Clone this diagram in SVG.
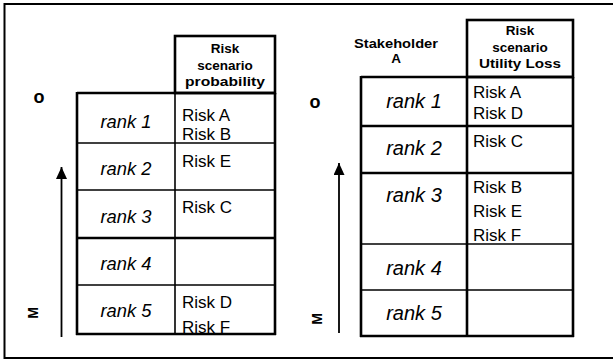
<svg xmlns="http://www.w3.org/2000/svg" width="613" height="361" viewBox="0 0 613 361">
<style>
.hd{font-family:"Liberation Sans",Arial,sans-serif;font-weight:bold;font-size:13.5px;text-anchor:middle;fill:#000}
.rk{font-family:"Liberation Sans",Arial,sans-serif;font-style:italic;font-size:19px;text-anchor:middle;fill:#000}
.rk2{font-family:"Liberation Sans",Arial,sans-serif;font-style:italic;font-size:20px;text-anchor:middle;fill:#000}
.rs{font-family:"Liberation Sans",Arial,sans-serif;font-size:17px;fill:#000}
.ax{font-family:"Liberation Sans",Arial,sans-serif;font-weight:bold;fill:#000;text-anchor:middle}
.thin{stroke:#000;stroke-width:1.6;fill:none}
.thk{stroke:#000;stroke-width:2.6;fill:none}
.conn{stroke:#000;stroke-width:1.8;fill:none}
</style>
<defs>
<marker id="ah" viewBox="0 0 12 11" refX="12" refY="5.5" markerWidth="12" markerHeight="11" markerUnits="userSpaceOnUse" orient="auto">
<path d="M0,0 L12,5.5 L0,11 Z" fill="#000"/>
</marker>
<clipPath id="clipL"><rect x="0" y="0" width="613" height="333"/></clipPath>
</defs>
<rect x="0" y="0" width="613" height="361" fill="#fff"/>
<rect id="frame" x="4.5" y="4" width="620" height="354" fill="none" stroke="#000" stroke-width="2"/>

<g id="left-table">
  <g id="left-header">
    <rect x="175" y="36" width="100" height="57" class="thk"/>
    <text class="hd" x="225" y="53">Risk</text>
    <text class="hd" x="225" y="70">scenario</text>
    <text class="hd" x="225" y="86" textLength="80" lengthAdjust="spacingAndGlyphs">probability</text>
  </g>
  <g id="left-texts" clip-path="url(#clipL)">
    <text class="rk" x="126" y="128" textLength="51" lengthAdjust="spacingAndGlyphs">rank 1</text>
    <text class="rk" x="126" y="175" textLength="51" lengthAdjust="spacingAndGlyphs">rank 2</text>
    <text class="rk" x="126" y="223" textLength="51" lengthAdjust="spacingAndGlyphs">rank 3</text>
    <text class="rk" x="126" y="270" textLength="51" lengthAdjust="spacingAndGlyphs">rank 4</text>
    <text class="rk" x="126" y="317" textLength="51" lengthAdjust="spacingAndGlyphs">rank 5</text>
    <text class="rs" x="182" y="121">Risk A</text>
    <text class="rs" x="182" y="140">Risk B</text>
    <text class="rs" x="182" y="167">Risk E</text>
    <text class="rs" x="182" y="213">Risk C</text>
    <text class="rs" x="182" y="308">Risk D</text>
    <text class="rs" x="182" y="333">Risk F</text>
  </g>
  <g id="left-grid">
    <line x1="77" y1="93" x2="276" y2="93" class="thk" stroke-width="3"/>
    <line x1="77" y1="143" x2="275" y2="143" class="thin"/>
    <line x1="77" y1="190" x2="275" y2="190" class="thin"/>
    <line x1="77" y1="238" x2="275" y2="238" class="thk"/>
    <line x1="77" y1="285" x2="275" y2="285" class="thin"/>
    <line x1="76" y1="334" x2="276" y2="334" class="thk" stroke-width="2.2"/>
    <line x1="77" y1="92" x2="77" y2="335" class="thk" stroke-width="2.4"/>
    <line x1="175" y1="93" x2="175" y2="334" class="thin" stroke-width="1.8"/>
    <line x1="275" y1="93" x2="275" y2="335" class="thk" stroke-width="3"/>
  </g>
</g>

<g id="right-table">
  <g id="stakeholder-label">
    <text class="hd" x="396" y="48" textLength="84" lengthAdjust="spacingAndGlyphs">Stakeholder</text>
    <text class="hd" x="396" y="63">A</text>
  </g>
  <g id="right-header">
    <rect x="467" y="20" width="106" height="57" class="thk" stroke-width="2.2"/>
    <text class="hd" x="520" y="35">Risk</text>
    <text class="hd" x="520" y="52">scenario</text>
    <text class="hd" x="520" y="68" textLength="82" lengthAdjust="spacingAndGlyphs">Utility Loss</text>
  </g>
  <g id="right-texts">
    <text class="rk2" x="414" y="108">rank 1</text>
    <text class="rk2" x="414" y="155">rank 2</text>
    <text class="rk2" x="414" y="202">rank 3</text>
    <text class="rk2" x="414" y="275">rank 4</text>
    <text class="rk2" x="414" y="320">rank 5</text>
    <text class="rs" x="473" y="98">Risk A</text>
    <text class="rs" x="473" y="119">Risk D</text>
    <text class="rs" x="473" y="147">Risk C</text>
    <text class="rs" x="473" y="193">Risk B</text>
    <text class="rs" x="473" y="217">Risk E</text>
    <text class="rs" x="473" y="241">Risk F</text>
  </g>
  <g id="right-grid">
    <line x1="361" y1="77" x2="573" y2="77" class="thk" stroke-width="2.2"/>
    <line x1="361" y1="126" x2="573" y2="126" class="thk" stroke-width="3"/>
    <line x1="361" y1="173" x2="573" y2="173" class="thk" stroke-width="3"/>
    <line x1="361" y1="244" x2="573" y2="244" class="thin" stroke-width="2"/>
    <line x1="361" y1="290" x2="573" y2="290" class="thin" stroke-width="2"/>
    <line x1="360" y1="336" x2="574" y2="336" class="thk" stroke-width="2.2"/>
    <line x1="361" y1="76" x2="361" y2="337" class="thk" stroke-width="2.4"/>
    <line x1="467" y1="77" x2="467" y2="336" class="thk" stroke-width="2.4"/>
    <line x1="573" y1="77" x2="573" y2="337" class="thk" stroke-width="2.4"/>
  </g>
</g>

<g id="axis-labels">
  <text class="ax" font-size="18" x="39" y="103">o</text>
  <text class="ax" font-size="14" transform="translate(37.5,313) rotate(-90)">M</text>
  <text class="ax" font-size="18" x="315" y="108">o</text>
  <text class="ax" font-size="14" transform="translate(321.5,319) rotate(-90)">M</text>
</g>

<g id="connectors">
  <line x1="61.5" y1="337" x2="61.5" y2="167" class="conn" marker-end="url(#ah)"/>
  <line x1="339" y1="333" x2="339" y2="163" class="conn" marker-end="url(#ah)"/>
</g>
</svg>
